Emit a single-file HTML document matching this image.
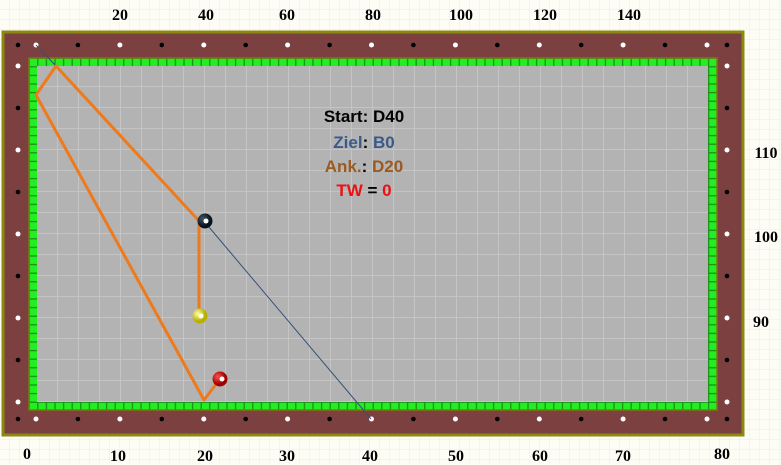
<!DOCTYPE html><html><head><style>body{margin:0;background:#fdfdf6}svg{display:block}</style></head><body>
<svg width="781" height="465" viewBox="0 0 781 465" xmlns="http://www.w3.org/2000/svg" font-family="Liberation Serif, serif">
<defs>
<pattern id="bg" width="10" height="10" patternUnits="userSpaceOnUse"><path d="M10 0V10H0" fill="none" stroke="#ecefe0" stroke-width="1"/></pattern>
<pattern id="fg" x="37" y="66" width="21" height="21" patternUnits="userSpaceOnUse"><path d="M21 0V21H0" fill="none" stroke="#cacaca" stroke-width="1.5"/></pattern>
<pattern id="gc" x="29" y="58" width="8.6" height="8.6" patternUnits="userSpaceOnUse"><rect width="8.6" height="8.6" fill="#1a8a1a"/><rect x="0.8" y="0.8" width="7.4" height="7.4" fill="#22ee22"/></pattern>
<radialGradient id="bk" cx="0.35" cy="0.35"><stop offset="0" stop-color="#456"/><stop offset="1" stop-color="#0a1420"/></radialGradient>
<radialGradient id="ye" cx="0.35" cy="0.35"><stop offset="0" stop-color="#ffffa0"/><stop offset="1" stop-color="#b8b000"/></radialGradient>
<radialGradient id="rd" cx="0.35" cy="0.35"><stop offset="0" stop-color="#ff5050"/><stop offset="1" stop-color="#a00000"/></radialGradient>
</defs>
<rect width="781" height="465" fill="url(#bg)"/>
<rect x="3" y="32" width="740" height="403" fill="#7d4040" stroke="#8a8a10" stroke-width="3"/>
<rect x="29" y="58" width="688" height="352" fill="url(#gc)"/>
<rect x="37" y="66" width="671" height="336" fill="#b3b3b3"/>
<rect x="37" y="66" width="671" height="336" fill="url(#fg)"/>
<rect x="29" y="58" width="688" height="352" fill="none" stroke="#7a7a10" stroke-width="1.5"/>
<g fill="#000">
<circle cx="18" cy="45" r="2.3"/><circle cx="727" cy="45" r="2.3"/><circle cx="18" cy="419" r="2.3"/><circle cx="727" cy="419" r="2.3"/>
</g>
<g>
<g fill="#fff"><circle cx="36" cy="45" r="2.5"/><circle cx="119.9" cy="45" r="2.5"/><circle cx="203.8" cy="45" r="2.5"/><circle cx="287.6" cy="45" r="2.5"/><circle cx="371.5" cy="45" r="2.5"/><circle cx="455.4" cy="45" r="2.5"/><circle cx="539.3" cy="45" r="2.5"/><circle cx="623.1" cy="45" r="2.5"/><circle cx="707" cy="45" r="2.5"/>
<circle cx="36" cy="419" r="2.5"/><circle cx="119.9" cy="419" r="2.5"/><circle cx="203.8" cy="419" r="2.5"/><circle cx="287.6" cy="419" r="2.5"/><circle cx="371.5" cy="419" r="2.5"/><circle cx="455.4" cy="419" r="2.5"/><circle cx="539.3" cy="419" r="2.5"/><circle cx="623.1" cy="419" r="2.5"/><circle cx="707" cy="419" r="2.5"/>
<circle cx="18" cy="66" r="2.5"/><circle cx="18" cy="150" r="2.5"/><circle cx="18" cy="234" r="2.5"/><circle cx="18" cy="318" r="2.5"/><circle cx="18" cy="402" r="2.5"/>
<circle cx="727" cy="66" r="2.5"/><circle cx="727" cy="150" r="2.5"/><circle cx="727" cy="234" r="2.5"/><circle cx="727" cy="318" r="2.5"/><circle cx="727" cy="402" r="2.5"/></g>
<g fill="#000"><circle cx="77.9" cy="45" r="2.3"/><circle cx="161.8" cy="45" r="2.3"/><circle cx="245.7" cy="45" r="2.3"/><circle cx="329.6" cy="45" r="2.3"/><circle cx="413.4" cy="45" r="2.3"/><circle cx="497.3" cy="45" r="2.3"/><circle cx="581.2" cy="45" r="2.3"/><circle cx="665" cy="45" r="2.3"/>
<circle cx="77.9" cy="419" r="2.3"/><circle cx="161.8" cy="419" r="2.3"/><circle cx="245.7" cy="419" r="2.3"/><circle cx="329.6" cy="419" r="2.3"/><circle cx="413.4" cy="419" r="2.3"/><circle cx="497.3" cy="419" r="2.3"/><circle cx="581.2" cy="419" r="2.3"/><circle cx="665" cy="419" r="2.3"/>
<circle cx="18" cy="108" r="2.3"/><circle cx="18" cy="192" r="2.3"/><circle cx="18" cy="276" r="2.3"/><circle cx="18" cy="360" r="2.3"/>
<circle cx="727" cy="108" r="2.3"/><circle cx="727" cy="192" r="2.3"/><circle cx="727" cy="276" r="2.3"/><circle cx="727" cy="360" r="2.3"/></g>
</g>
<g stroke="#34507a" stroke-width="1" fill="none"><line x1="36" y1="45" x2="56" y2="66"/><line x1="203" y1="220" x2="371" y2="419"/></g>
<g stroke="#ee7a1c" stroke-width="3" fill="none" stroke-linejoin="round"><polyline points="200,222 56,66 36,95 204,400 220,379"/><line x1="199" y1="222" x2="199" y2="315"/></g>
<circle cx="205" cy="221" r="7.5" fill="url(#bk)"/><circle cx="206" cy="221" r="2.5" fill="#fff"/>
<circle cx="200" cy="316" r="7.5" fill="url(#ye)"/><circle cx="201" cy="316" r="2.5" fill="#fff"/>
<circle cx="220" cy="379" r="7.5" fill="url(#rd)"/><circle cx="222" cy="379" r="2.5" fill="#fff"/>
<g font-family="Liberation Sans, sans-serif" font-weight="bold" font-size="17" text-anchor="middle">
<text x="364" y="122" fill="#000">Start: D40</text>
<text x="364" y="148" fill="#3a5a8a">Ziel<tspan fill="#000">:</tspan> B0</text>
<text x="364" y="172" fill="#9a5a20">Ank.<tspan fill="#000">:</tspan> D20</text>
<text x="364" y="196" fill="#ee1010">TW <tspan fill="#000">=</tspan> 0</text>
</g>
<g font-weight="bold" font-size="16" text-anchor="middle" fill="#000">
<text x="120" y="20">20</text><text x="206" y="20">40</text><text x="287" y="20">60</text><text x="373" y="20">80</text><text x="461" y="20">100</text><text x="545" y="20">120</text><text x="629" y="20">140</text>
<text x="27" y="459">0</text><text x="118" y="461">10</text><text x="205" y="461">20</text><text x="287" y="461">30</text><text x="370" y="461">40</text><text x="456" y="461">50</text><text x="540" y="461">60</text><text x="623" y="461">70</text><text x="722" y="459">80</text>
<text x="766" y="158">110</text><text x="766" y="242">100</text><text x="761" y="327">90</text>
</g>
</svg></body></html>
